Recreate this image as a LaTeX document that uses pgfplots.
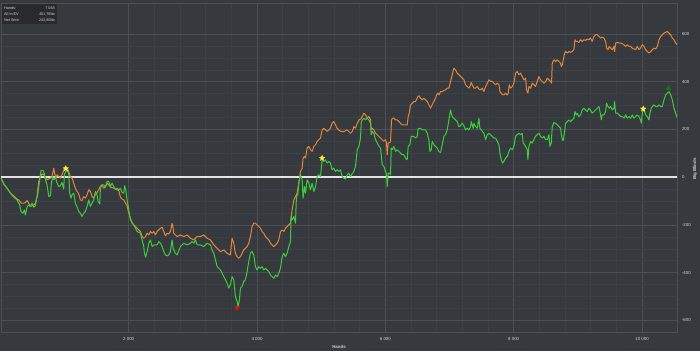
\documentclass[border=0pt]{standalone}
\usepackage{fontspec}
\setmainfont{Liberation Sans}
\usepackage{pgfplots}
\pgfplotsset{compat=1.18}
\usepackage{pgfplotstable}
\usetikzlibrary{backgrounds}
\definecolor{bg}{RGB}{54,57,62}
\definecolor{gmaj}{RGB}{76,79,84}
\definecolor{gmin}{RGB}{61,64,69}
\definecolor{evorange}{RGB}{226,135,58}
\definecolor{netgreen}{RGB}{60,205,60}
\definecolor{txt}{RGB}{210,210,210}
\definecolor{boxbg}{RGB}{40,42,46}

\pgfdeclareplotmark{fstar}{%
  \pgfpathmoveto{\pgfpointpolar{90}{\pgfplotmarksize}}%
  \pgfpathlineto{\pgfpointpolar{126}{0.45\pgfplotmarksize}}%
  \pgfpathlineto{\pgfpointpolar{162}{\pgfplotmarksize}}%
  \pgfpathlineto{\pgfpointpolar{198}{0.45\pgfplotmarksize}}%
  \pgfpathlineto{\pgfpointpolar{234}{\pgfplotmarksize}}%
  \pgfpathlineto{\pgfpointpolar{270}{0.45\pgfplotmarksize}}%
  \pgfpathlineto{\pgfpointpolar{306}{\pgfplotmarksize}}%
  \pgfpathlineto{\pgfpointpolar{342}{0.45\pgfplotmarksize}}%
  \pgfpathlineto{\pgfpointpolar{18}{\pgfplotmarksize}}%
  \pgfpathlineto{\pgfpointpolar{54}{0.45\pgfplotmarksize}}%
  \pgfpathclose\pgfusepathqfillstroke}

\pgfplotstableread{
hands ev
0 0
62 -32
104 -46
156 -67
208 -78
260 -92
286 -95
322 -109
364 -109
390 -106
416 -98
442 -109
468 -123
494 -120
520 -116
546 -109
572 -81
598 -18
624 3
650 14
676 10
702 0
728 -11
754 -8
780 -4
806 3
832 38
847 14
868 -4
884 10
909 3
935 -4
961 10
987 28
1013 45
1039 38
1065 24
1091 3
1117 -4
1143 -25
1169 -46
1195 -60
1221 -70
1247 -95
1273 -98
1299 -81
1325 -88
1351 -74
1377 -53
1403 -60
1429 -81
1455 -88
1481 -74
1507 -64
1533 -53
1559 -39
1585 -32
1611 -46
1637 -42
1663 -25
1689 -32
1715 -42
1767 -46
1793 -50
1819 -53
1845 -56
1871 -84
1897 -92
1923 -95
1949 -109
1975 -120
2001 -151
2027 -172
2053 -190
2079 -200
2131 -214
2183 -228
2209 -249
2235 -256
2261 -249
2287 -235
2313 -242
2339 -228
2365 -235
2391 -228
2417 -242
2443 -228
2469 -221
2495 -214
2521 -210
2547 -228
2573 -246
2599 -235
2624 -238
2650 -228
2676 -193
2692 -214
2702 -235
2728 -242
2754 -249
2806 -242
2858 -249
2910 -242
2962 -256
3014 -263
3066 -249
3118 -249
3170 -242
3222 -256
3274 -263
3326 -284
3378 -298
3430 -312
3482 -305
3533 -319
3585 -326
3611 -256
3637 -277
3663 -319
3689 -333
3715 -340
3741 -333
3767 -319
3793 -305
3819 -298
3845 -291
3871 -277
3897 -249
3923 -207
3949 -193
3975 -193
4001 -200
4027 -207
4053 -214
4079 -228
4105 -235
4131 -249
4157 -256
4183 -263
4209 -277
4235 -284
4261 -291
4287 -284
4313 -277
4339 -263
4365 -228
4391 -221
4417 -228
4443 -214
4469 -207
4495 -200
4521 -193
4547 -137
4573 -95
4599 -81
4625 -67
4651 -25
4677 24
4703 38
4718 80
4739 87
4755 80
4781 122
4807 129
4833 115
4859 108
4885 129
4911 136
4937 150
4963 157
4989 164
5015 198
5041 205
5067 198
5093 192
5119 198
5144 205
5170 226
5196 233
5222 219
5248 205
5274 198
5300 192
5353 191
5405 198
5457 184
5483 191
5509 212
5535 205
5561 226
5587 240
5613 243
5639 254
5665 268
5691 261
5717 247
5743 254
5769 240
5779 198
5795 205
5821 198
5847 184
5873 178
5899 171
5925 164
5951 157
5977 150
6003 157
6018 143
6029 94
6044 143
6070 145
6081 150
6096 240
6112 247
6133 247
6159 240
6185 240
6211 233
6236 226
6262 219
6288 219
6340 219
6356 254
6372 268
6392 303
6418 310
6444 317
6470 317
6507 338
6528 341
6548 331
6574 324
6600 331
6626 324
6652 317
6678 303
6704 289
6730 303
6756 317
6782 331
6798 345
6818 352
6839 345
6860 359
6886 359
6912 363
6938 366
6964 373
6990 373
7016 401
7042 429
7068 457
7094 450
7120 436
7146 429
7172 422
7198 415
7224 408
7250 387
7276 380
7302 373
7328 387
7338 397
7354 387
7380 373
7406 373
7432 380
7458 369
7484 366
7510 373
7536 359
7562 380
7588 394
7614 408
7640 401
7666 401
7692 394
7718 387
7744 394
7770 387
7785 359
7806 352
7827 345
7848 345
7874 352
7900 345
7915 352
7931 387
7951 373
7977 380
8003 394
8029 436
8055 443
8081 429
8107 436
8133 422
8159 408
8185 415
8200 366
8221 352
8237 380
8263 373
8289 394
8315 387
8341 380
8367 401
8393 422
8419 408
8445 401
8471 394
8497 401
8523 415
8549 408
8575 401
8590 394
8601 478
8627 492
8653 485
8679 492
8705 485
8731 478
8741 464
8757 471
8772 492
8793 520
8809 527
8835 520
8861 527
8887 523
8912 527
8938 534
8954 576
8970 569
8990 569
9016 565
9042 576
9068 569
9094 576
9120 573
9146 579
9172 576
9198 583
9224 569
9250 590
9276 597
9302 597
9328 590
9354 583
9380 587
9406 583
9432 569
9448 541
9469 534
9489 548
9510 541
9536 534
9562 548
9572 527
9588 562
9614 565
9640 562
9666 562
9692 559
9718 555
9744 548
9770 555
9796 548
9822 548
9848 541
9874 537
9900 534
9926 548
9952 534
9978 541
10004 555
10030 548
10056 534
10082 527
10108 520
10134 527
10160 534
10186 541
10212 537
10238 548
10264 576
10290 590
10316 597
10342 604
10368 607
10394 611
10420 604
10446 597
10472 583
10498 576
10524 562
10550 555
}\evtable

\pgfplotstableread{
hands net
0 0
62 -32
104 -46
156 -67
208 -84
260 -95
301 -116
322 -144
353 -151
374 -137
390 -158
416 -126
442 -116
468 -123
494 -109
520 -126
546 -120
561 -95
582 -74
613 -11
634 28
665 28
686 14
702 -11
728 -32
754 -81
780 -78
795 -25
816 3
832 -11
858 0
884 -25
909 -39
935 -36
961 -22
987 -50
998 10
1019 24
1039 28
1065 17
1081 -67
1102 -88
1117 -74
1143 -67
1169 -109
1195 -123
1221 -144
1247 -151
1273 -165
1299 -151
1325 -144
1351 -123
1377 -95
1403 -123
1429 -109
1455 -95
1481 -60
1507 -74
1523 -102
1549 -112
1559 -46
1585 -32
1611 -32
1637 -42
1663 -18
1689 -18
1715 -39
1741 -25
1767 -39
1793 -50
1819 -46
1845 -53
1871 -46
1897 -64
1923 -67
1938 -36
1954 -53
1975 -95
2001 -137
2027 -179
2053 -193
2079 -200
2105 -214
2131 -228
2183 -235
2209 -263
2235 -291
2245 -319
2266 -335
2287 -312
2313 -277
2339 -263
2365 -291
2391 -284
2443 -284
2469 -270
2495 -277
2521 -291
2547 -312
2573 -326
2599 -330
2624 -326
2650 -312
2676 -263
2692 -298
2728 -319
2754 -326
2806 -291
2832 -284
2858 -277
2910 -284
2962 -277
2988 -270
3014 -277
3040 -263
3066 -284
3118 -284
3170 -291
3222 -277
3274 -284
3300 -305
3326 -319
3352 -347
3378 -375
3404 -382
3430 -389
3456 -403
3482 -417
3508 -430
3533 -444
3559 -465
3585 -451
3611 -417
3637 -430
3663 -500
3689 -521
3705 -542
3726 -514
3741 -465
3767 -458
3793 -437
3819 -430
3845 -396
3871 -354
3897 -319
3923 -312
3949 -326
3975 -375
4001 -389
4027 -375
4053 -382
4079 -375
4105 -389
4131 -382
4157 -389
4183 -396
4209 -410
4235 -417
4261 -424
4287 -410
4313 -417
4339 -403
4365 -382
4391 -333
4417 -319
4443 -333
4469 -319
4495 -291
4521 -270
4531 -165
4547 -179
4573 -165
4599 -193
4614 -81
4635 -74
4651 -25
4677 10
4703 -11
4718 -88
4739 -39
4755 -67
4781 -11
4807 -25
4833 -53
4859 -25
4885 -60
4911 -39
4937 3
4963 10
4989 3
5015 73
5041 66
5067 73
5093 59
5119 66
5144 59
5170 31
5196 38
5222 24
5248 31
5274 24
5300 31
5327 3
5353 -4
5379 -8
5405 10
5431 17
5457 3
5483 14
5509 24
5535 45
5561 115
5587 129
5613 164
5623 226
5639 240
5665 247
5691 240
5717 247
5743 240
5769 226
5779 178
5795 191
5821 184
5847 157
5873 143
5899 129
5925 122
5951 52
5977 45
6003 24
6018 10
6029 -39
6044 17
6070 17
6081 10
6091 122
6107 115
6133 129
6159 108
6185 115
6211 108
6236 101
6262 94
6288 94
6314 80
6340 73
6356 129
6382 136
6403 171
6444 171
6470 164
6496 171
6512 205
6548 205
6574 198
6600 198
6626 198
6652 184
6678 157
6694 108
6715 115
6730 150
6756 136
6782 129
6808 122
6834 108
6860 103
6886 136
6912 171
6938 178
6964 198
6990 240
7016 282
7042 254
7068 247
7094 240
7120 233
7146 212
7172 215
7198 226
7224 215
7250 198
7276 205
7302 198
7328 212
7338 233
7354 219
7369 205
7380 226
7406 212
7432 205
7458 247
7473 205
7494 198
7515 191
7536 184
7562 157
7588 178
7614 184
7640 178
7666 171
7692 164
7718 164
7744 150
7770 136
7785 101
7806 73
7827 59
7848 66
7874 80
7900 87
7925 108
7951 122
7977 115
8003 129
8029 171
8055 178
8081 184
8107 178
8133 184
8148 143
8169 136
8185 129
8211 115
8221 73
8237 129
8263 150
8289 143
8315 157
8341 171
8367 178
8393 184
8419 171
8445 164
8471 171
8497 157
8523 157
8549 178
8564 129
8585 143
8601 212
8627 229
8653 226
8679 219
8705 212
8731 205
8741 184
8757 157
8772 154
8793 191
8809 226
8835 233
8861 240
8887 233
8912 240
8938 247
8954 275
8975 261
8990 268
9016 254
9042 261
9068 282
9094 289
9120 282
9146 275
9172 289
9198 282
9224 268
9250 275
9276 282
9302 289
9328 296
9354 261
9365 240
9380 261
9406 261
9432 275
9448 310
9469 296
9489 289
9510 296
9536 282
9562 289
9572 317
9588 268
9614 268
9640 261
9666 254
9692 254
9718 247
9744 261
9770 247
9796 254
9822 247
9848 261
9874 247
9900 254
9926 261
9952 254
9978 240
9988 226
10004 268
10019 282
10040 275
10056 261
10082 254
10108 240
10123 268
10144 289
10160 296
10186 303
10212 296
10238 296
10264 303
10290 296
10316 296
10342 324
10368 345
10394 352
10420 359
10446 345
10472 324
10498 289
10524 268
10550 247
}\nettable

\begin{document}
\begin{tikzpicture}[x=1bp,y=1bp]
\begin{axis}[
  scale only axis, width=676bp, height=329bp,
  xmin=10, xmax=10545, ymin=-649, ymax=730,
  scaled x ticks=false, scaled y ticks=false,
  axis background/.style={fill=bg},
  axis line style={gmaj, line width=0.6bp},
  xtick={2000,4000,6000,8000,10000},
  xticklabels={2 000,4 000,6 000,8 000,10 000},
  ytick={-600,-400,-200,0,200,400,600},
  yticklabels={-600,-400,-200,0,200,400,600},
  minor x tick num=4, minor y tick num=3,
  grid=both,
  major grid style={gmaj, line width=0.55bp},
  minor grid style={gmin, line width=0.45bp},
  major tick length=0pt, minor tick length=0pt,
  yticklabel pos=right,
  tick label style={font=\fontsize{4.4}{5}\selectfont, text=txt},
  xticklabel style={yshift=-1.5bp},
  yticklabel style={xshift=1.5bp},
  xlabel={Hands},
  xlabel style={at={(axis description cs:0.5,-0.0447)}, anchor=center, font=\bfseries\fontsize{4.4}{5}\selectfont, text=txt},
  ylabel={Big Blinds},
  ylabel style={at={(axis description cs:1.0266,0.495)}, anchor=center, font=\bfseries\fontsize{4.4}{5}\selectfont, text=txt},
  clip=true,
]
\coordinate (bl) at (rel axis cs:0,0);
\addplot[draw={rgb,255:red,228;green,228;blue,228}, line width=1.4bp] coordinates {(10,0) (10545,0)};
\addplot[evorange, line width=1bp, line join=round] table[x=hands, y=ev] {\evtable};
\addplot[netgreen, line width=1bp, line join=round] table[x=hands, y=net] {\nettable};
\addplot[only marks, mark=fstar, mark size=3bp, mark options={fill={rgb,255:red,250;green,235;blue,60}, draw={rgb,255:red,250;green,235;blue,60}, line width=0.2bp}] coordinates {(1019,36) (5015,80) (10019,286)};
\addplot[only marks, mark=triangle*, mark size=2.8bp, mark options={rotate=180, fill={rgb,255:red,230;green,20;blue,20}, draw={rgb,255:red,230;green,20;blue,20}}] coordinates {(3689,-547)};
\addplot[only marks, mark=triangle*, mark size=2.8bp, mark options={fill={rgb,255:red,20;green,120;blue,20}, draw={rgb,255:red,20;green,120;blue,20}}] coordinates {(10410,372)};
\end{axis}
\begin{scope}[shift={(bl)}]
\begin{scope}[on background layer]
\fill[bg] (-1,-19) rectangle (699,332);
\end{scope}
\fill[boxbg] (0.5,328) rectangle (56,308);
\begin{scope}[every node/.style={font=\fontsize{3.8}{4.5}\selectfont, text=txt, inner sep=0pt}]
\node[anchor=west] at (3,323.5) {Hands:};
\node[anchor=east] at (54,323.5) {7 068};
\node[anchor=west] at (3,317.7) {All-in EV};
\node[anchor=east] at (54,317.7) {451,76bb};
\node[anchor=west] at (3,311.9) {Net Won};
\node[anchor=east] at (54,311.9) {243,80bb};
\end{scope}
\pgfresetboundingbox
\useasboundingbox (-1,-19) rectangle (699,332);
\end{scope}
\end{tikzpicture}
\end{document}
